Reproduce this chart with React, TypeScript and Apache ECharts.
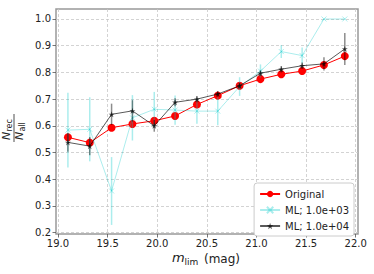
import React, { useEffect, useRef } from "react";
import * as echarts from "echarts";

const mLim = [19.10, 19.32, 19.54, 19.75, 19.97, 20.18, 20.40, 20.61, 20.83, 21.04, 21.25, 21.46, 21.68, 21.89];
const original = [0.557, 0.537, 0.593, 0.607, 0.619, 0.637, 0.680, 0.713, 0.750, 0.775, 0.793, 0.805, 0.828, 0.861];
const ml1e3 = [0.584, 0.587, 0.356, 0.630, 0.662, 0.659, 0.655, 0.655, 0.747, 0.805, 0.878, 0.863, 1.0, 1.0];
const ml1e3Err = [0.14, 0.12, 0.127, 0.085, 0.065, 0.055, 0.047, 0.053, 0.035, 0.025, 0.024, 0.03, 0, 0];
const ml1e4 = [0.538, 0.524, 0.643, 0.656, 0.600, 0.688, 0.700, 0.719, 0.750, 0.797, 0.812, 0.825, 0.832, 0.888];
const ml1e4Err = [0.035, 0.034, 0.04, 0.04, 0.022, 0.015, 0.012, 0.01, 0.01, 0.01, 0.012, 0.012, 0.025, 0.06];
const xTicks = [19.0, 19.5, 20.0, 20.5, 21.0, 21.5, 22.0];
const yTicks = [0.2, 0.3, 0.4, 0.5, 0.6, 0.7, 0.8, 0.9, 1.0];
const seriesNames = ["Original", "ML; 1.0e+03", "ML; 1.0e+04"];

const FONT = "DejaVu Sans";
const CYAN = "rgba(0,200,200,0.33)";
const DARK = "rgba(0,0,0,0.65)";
const STAR = "path://M50,0 L61.8,36.2 L100,36.2 L69.1,58.6 L80.9,95.1 L50,72.4 L19.1,95.1 L30.9,58.6 L0,36.2 L38.2,36.2 Z";
const CROSS = "path://M0,0 L10,10 M10,0 L0,10";

function errData(ys: number[], es: number[]) {
  return mLim.map((x, i) => [x, ys[i] - es[i], ys[i] + es[i]]);
}

function errSeries(ys: number[], es: number[], color: string, z: number) {
  return {
    type: "custom",
    z,
    silent: true,
    data: errData(ys, es),
    encode: { x: 0, y: [1, 2] },
    renderItem: (params: any, api: any) => {
      const a = api.coord([api.value(0), api.value(1)]);
      const b = api.coord([api.value(0), api.value(2)]);
      return {
        type: "line",
        shape: { x1: a[0], y1: a[1], x2: b[0], y2: b[1] },
        style: { stroke: color, lineWidth: 1.5 },
      };
    },
  };
}

export default function App() {
  const ref = useRef<HTMLDivElement>(null);
  useEffect(() => {
    if (!ref.current) return;
    const chart = echarts.init(ref.current, null, { renderer: "svg" });
    const pair = (ys: number[]) => mLim.map((x, i) => [x, ys[i]]);
    chart.setOption({
      animation: false,
      grid: {
        left: 56,
        right: 16,
        top: 9,
        bottom: 40,
        show: true,
        borderColor: "#999",
        borderWidth: 1.5,
        backgroundColor: "transparent",
      },
      xAxis: {
        type: "value",
        min: 18.98,
        max: 22.023,
        axisLine: { show: false },
        axisTick: {
          show: true,
          customValues: xTicks,
          length: 3.5,
          lineStyle: { color: "#555", width: 0.8 },
        },
        axisLabel: {
          customValues: xTicks,
          formatter: (v: number) => v.toFixed(1),
          fontFamily: FONT,
          fontSize: 10,
          color: "#222",
          margin: 4,
        },
        splitLine: {
          show: true,
          lineStyle: { color: "#c8c8c8", type: [3, 2], width: 0.8 },
        },
      },
      yAxis: {
        type: "value",
        min: 0.195,
        max: 1.0374,
        axisLine: { show: false },
        axisTick: {
          show: true,
          customValues: yTicks,
          length: 3.5,
          lineStyle: { color: "#555", width: 0.8 },
        },
        axisLabel: {
          customValues: yTicks,
          formatter: (v: number) => v.toFixed(1),
          fontFamily: FONT,
          fontSize: 10,
          color: "#222",
          margin: 5,
        },
        splitLine: {
          show: true,
          lineStyle: { color: "#c8c8c8", type: [3, 2], width: 0.8 },
        },
      },
      legend: {
        data: seriesNames,
        orient: "vertical",
        right: 20,
        top: 183,
        padding: [6, 5, 5, 5],
        itemGap: 6,
        itemWidth: 20,
        itemHeight: 8,
        backgroundColor: "#fff",
        borderColor: "#ccc",
        borderWidth: 1,
        borderRadius: 3,
        textStyle: { fontFamily: FONT, fontSize: 10, color: "#222", lineHeight: 8 },
      },
      series: [
        {
          name: seriesNames[0],
          type: "line",
          z: 2,
          data: pair(original),
          symbol: "circle",
          symbolSize: 8,
          lineStyle: { color: "#ff0000", width: 1 },
          itemStyle: { color: "#ff0000" },
        },
        errSeries(ml1e3, ml1e3Err, CYAN, 3),
        {
          name: seriesNames[1],
          type: "line",
          z: 4,
          data: pair(ml1e3),
          symbol: CROSS,
          symbolSize: 5,
          lineStyle: { color: CYAN, width: 1 },
          itemStyle: { color: "rgba(0,0,0,0)", borderColor: CYAN, borderWidth: 1 },
        },
        errSeries(ml1e4, ml1e4Err, "rgba(0,0,0,0.45)", 5),
        {
          name: seriesNames[2],
          type: "line",
          z: 6,
          data: pair(ml1e4),
          symbol: STAR,
          symbolSize: 6,
          lineStyle: { color: DARK, width: 1 },
          itemStyle: { color: DARK },
        },
      ],
      graphic: [
        {
          type: "group",
          x: 14,
          y: 128,
          rotation: Math.PI / 2,
          children: [
            { type: "text", x: -8, y: -2, style: { text: "N", font: `italic 11px ${FONT}`, fill: "#222", textAlign: "center", textVerticalAlign: "bottom" } },
            { type: "text", x: -3.5, y: -1, style: { text: "rec", font: `8px ${FONT}`, fill: "#222", textAlign: "left", textVerticalAlign: "bottom" } },
            { type: "line", shape: { x1: -14, y1: 0, x2: 14, y2: 0 }, style: { stroke: "#222", lineWidth: 0.8 } },
            { type: "text", x: -8, y: 11, style: { text: "N", font: `italic 11px ${FONT}`, fill: "#222", textAlign: "center", textVerticalAlign: "bottom" } },
            { type: "text", x: -3.5, y: 12, style: { text: "all", font: `8px ${FONT}`, fill: "#222", textAlign: "left", textVerticalAlign: "bottom" } },
          ],
        },
        { type: "text", x: 172, y: 264, style: { text: "m", font: `italic 13px ${FONT}`, fill: "#222", textVerticalAlign: "bottom" } },
        { type: "text", x: 184.5, y: 266, style: { text: "lim", font: `9px ${FONT}`, fill: "#222", textVerticalAlign: "bottom" } },
        { type: "text", x: 204, y: 265, style: { text: "(mag)", font: `12px ${FONT}`, fill: "#222", textVerticalAlign: "bottom" } },
      ],
    });
    return () => chart.dispose();
  }, []);
  return <div ref={ref} style={{ width: 374, height: 274, position: "absolute", left: 0, top: 0 }} />;
}
